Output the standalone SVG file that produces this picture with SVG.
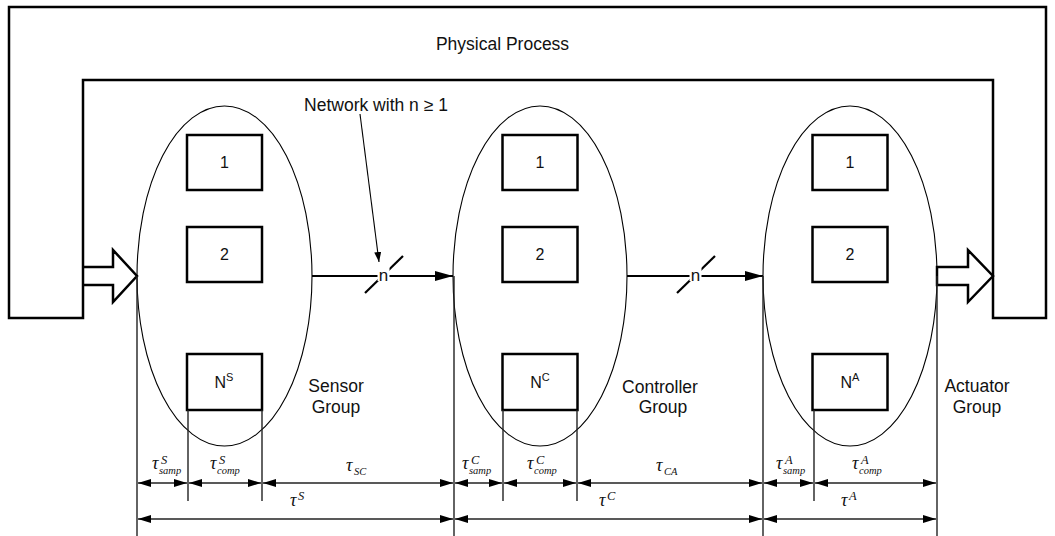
<svg xmlns="http://www.w3.org/2000/svg" width="1055" height="536" viewBox="0 0 1055 536">
<defs>
<style>
.txt{font-family:"Liberation Sans",Arial,sans-serif;fill:#111;}
.lbl{font-size:17.5px;}
.num{font-size:16px;}
.box{fill:#fff;stroke:#000;stroke-width:2.5;}
.ell{fill:none;stroke:#000;stroke-width:1.1;}
.thick{fill:none;stroke:#000;stroke-width:2.5;}
.conn{stroke:#000;stroke-width:2.2;fill:none;}
.dim{stroke:#222;stroke-width:1.4;fill:none;}
.tau{font-family:"Liberation Serif","Times New Roman",serif;font-style:italic;fill:#111;font-size:18px;}
.sup{font-size:12.5px;}
.sub{font-size:10.5px;}
</style>
<marker id="dimArr" markerUnits="userSpaceOnUse" markerWidth="13" markerHeight="9" refX="13" refY="4" orient="auto-start-reverse"><path d="M0,0 L13,4 L0,8 z" fill="#000"/></marker>
<marker id="bigArr" markerUnits="userSpaceOnUse" markerWidth="19" markerHeight="11" refX="18" refY="5" orient="auto"><path d="M0,0 L18,5 L0,10 z" fill="#000"/></marker>
<marker id="ptrArr" markerUnits="userSpaceOnUse" markerWidth="10" markerHeight="8" refX="10" refY="3.5" orient="auto"><path d="M0,0 L10,3.5 L0,7 z" fill="#000"/></marker>
</defs>
<rect width="1055" height="536" fill="#fff"/>

<g id="physical-process">
<path class="thick" d="M83,318 L9,318 L9,7 L1046,7 L1046,318 L993,318 L993,80 L83,80 Z"/>
<text class="txt lbl" x="502.5" y="50" text-anchor="middle">Physical Process</text>
</g>

<g id="input-arrow">
<path class="thick" d="M83,267 L113,267 L113,250 L137,276 L113,302 L113,285 L83,285" fill="#fff"/>
</g>
<g id="output-arrow">
<path class="thick" fill="#fff" d="M937,267 L968,267 L968,250 L993,276 L968,302 L968,285 L937,285 Z"/>
</g>

<g id="sensor-group">
<ellipse class="ell" cx="224.5" cy="276" rx="87.5" ry="170"/>
<rect class="box" x="187" y="135" width="75" height="55"/>
<text class="txt num" x="224.5" y="168" text-anchor="middle">1</text>
<rect class="box" x="187" y="227" width="75" height="55"/>
<text class="txt num" x="224.5" y="260" text-anchor="middle">2</text>
<rect class="box" x="187" y="354" width="75" height="56"/>
<text class="txt num" x="224" y="388" text-anchor="middle">N<tspan font-size="11" dy="-7">S</tspan></text>
<text class="txt lbl" x="336" y="392" text-anchor="middle">Sensor</text>
<text class="txt lbl" x="336" y="413" text-anchor="middle">Group</text>
</g>

<g id="controller-group">
<ellipse class="ell" cx="540" cy="276" rx="87" ry="170"/>
<rect class="box" x="502.5" y="135" width="75" height="55"/>
<text class="txt num" x="540" y="168" text-anchor="middle">1</text>
<rect class="box" x="502.5" y="227" width="75" height="55"/>
<text class="txt num" x="540" y="260" text-anchor="middle">2</text>
<rect class="box" x="502.5" y="354" width="75" height="56"/>
<text class="txt num" x="540" y="388" text-anchor="middle">N<tspan font-size="11" dy="-7">C</tspan></text>
<text class="txt lbl" x="660" y="393" text-anchor="middle">Controller</text>
<text class="txt lbl" x="663" y="413" text-anchor="middle">Group</text>
</g>

<g id="actuator-group">
<ellipse class="ell" cx="850" cy="276" rx="87" ry="170"/>
<rect class="box" x="812.5" y="135" width="75" height="55"/>
<text class="txt num" x="850" y="168" text-anchor="middle">1</text>
<rect class="box" x="812.5" y="227" width="75" height="55"/>
<text class="txt num" x="850" y="260" text-anchor="middle">2</text>
<rect class="box" x="812.5" y="354" width="75" height="56"/>
<text class="txt num" x="850" y="388" text-anchor="middle">N<tspan font-size="11" dy="-7">A</tspan></text>
<text class="txt lbl" x="977" y="392" text-anchor="middle">Actuator</text>
<text class="txt lbl" x="977" y="413" text-anchor="middle">Group</text>
</g>

<g id="network-label">
<text class="txt lbl" x="376" y="111" text-anchor="middle">Network with n ≥ 1</text>
</g>

<g id="connectors">
<line x1="360" y1="114" x2="379" y2="262" stroke="#000" stroke-width="1.1" marker-end="url(#ptrArr)"/>
<line class="conn" x1="312" y1="276" x2="453" y2="276" marker-end="url(#bigArr)"/>
<line class="conn" x1="365" y1="293" x2="403" y2="256" stroke-width="1.5"/>
<rect x="377.5" y="266" width="12" height="15" fill="#fff"/>
<text class="txt" font-size="17" x="383.5" y="281" text-anchor="middle">n</text>
<line class="conn" x1="627" y1="276" x2="763" y2="276" marker-end="url(#bigArr)"/>
<line class="conn" x1="677" y1="293" x2="715" y2="256" stroke-width="1.5"/>
<rect x="689.5" y="266" width="12" height="15" fill="#fff"/>
<text class="txt" font-size="17" x="695.5" y="281" text-anchor="middle">n</text>
</g>

<g id="timing">
<line class="dim" x1="137" y1="276" x2="137" y2="536"/>
<line class="dim" x1="454" y1="276" x2="454" y2="536"/>
<line class="dim" x1="763" y1="276" x2="763" y2="536"/>
<line class="dim" x1="937" y1="276" x2="937" y2="536"/>
<line class="dim" x1="188" y1="410" x2="188" y2="501"/>
<line class="dim" x1="262" y1="410" x2="262" y2="501"/>
<line class="dim" x1="503" y1="410" x2="503" y2="501"/>
<line class="dim" x1="577" y1="410" x2="577" y2="501"/>
<line class="dim" x1="814" y1="410" x2="814" y2="501"/>

<g marker-start="url(#dimArr)" marker-end="url(#dimArr)">
<line class="dim" x1="138" y1="483" x2="187" y2="483"/>
<line class="dim" x1="189" y1="483" x2="261" y2="483"/>
<line class="dim" x1="263" y1="483" x2="453" y2="483"/>
<line class="dim" x1="455" y1="483" x2="502" y2="483"/>
<line class="dim" x1="504" y1="483" x2="576" y2="483"/>
<line class="dim" x1="578" y1="483" x2="762" y2="483"/>
<line class="dim" x1="764" y1="483" x2="813" y2="483"/>
<line class="dim" x1="815" y1="483" x2="936" y2="483"/>
<line class="dim" x1="138" y1="519" x2="453" y2="519"/>
<line class="dim" x1="455" y1="519" x2="762" y2="519"/>
<line class="dim" x1="764" y1="519" x2="936" y2="519"/>
</g>

<text class="tau" x="152" y="469">τ</text><text class="tau sup" x="161" y="464">S</text><text class="tau sub" x="159" y="474">samp</text>
<text class="tau" x="210" y="469">τ</text><text class="tau sup" x="219" y="464">S</text><text class="tau sub" x="217" y="474">comp</text>
<text class="tau" x="346" y="471">τ</text><text class="tau sub" x="354" y="475">SC</text>
<text class="tau" x="290" y="506">τ</text><text class="tau sup" x="298" y="500">S</text>

<text class="tau" x="462" y="469">τ</text><text class="tau sup" x="471" y="464">C</text><text class="tau sub" x="469" y="474">samp</text>
<text class="tau" x="527" y="469">τ</text><text class="tau sup" x="536" y="464">C</text><text class="tau sub" x="534" y="474">comp</text>
<text class="tau" x="656" y="471">τ</text><text class="tau sub" x="664" y="475">CA</text>
<text class="tau" x="599" y="506">τ</text><text class="tau sup" x="607" y="500">C</text>

<text class="tau" x="776" y="469">τ</text><text class="tau sup" x="785" y="464">A</text><text class="tau sub" x="783" y="474">samp</text>
<text class="tau" x="852" y="469">τ</text><text class="tau sup" x="861" y="464">A</text><text class="tau sub" x="859" y="474">comp</text>
<text class="tau" x="841" y="506">τ</text><text class="tau sup" x="849" y="500">A</text>
</g>
</svg>
